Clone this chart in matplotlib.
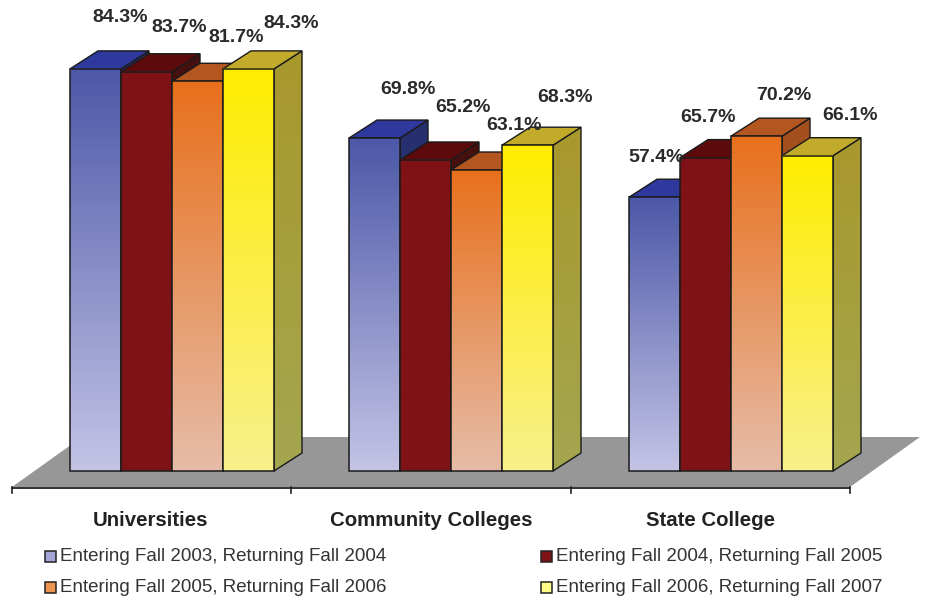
import matplotlib
matplotlib.use("Agg")
import matplotlib.pyplot as plt
import numpy as np
from matplotlib.colors import to_rgb
from matplotlib.patches import Polygon, Rectangle

plt.rcParams["font.family"] = ["Liberation Sans", "DejaVu Sans"]

# data
groups = ["Universities", "Community Colleges", "State College"]
series = [
    "Entering Fall 2003, Returning Fall 2004",
    "Entering Fall 2004, Returning Fall 2005",
    "Entering Fall 2005, Returning Fall 2006",
    "Entering Fall 2006, Returning Fall 2007",
]
fall_2003 = [84.3, 69.8, 57.4]
fall_2004 = [83.7, 65.2, 65.7]
fall_2005 = [81.7, 63.1, 70.2]
fall_2006 = [84.3, 68.3, 66.1]
values = [fall_2003, fall_2004, fall_2005, fall_2006]

# colours: front top, front bottom, roof, side top, side bottom, legend
front_top = ["#4c58a8", "#7f1216", "#e8701c", "#ffec00"]
front_bot = ["#c4c4e6", "#7f1216", "#e6bca8", "#f8f08c"]
roof = ["#2f389c", "#5c0a0c", "#b4561f", "#c2aa2a"]
side_top = ["#27306f", "#46100f", "#a4501e", "#a8982c"]
side_bot = ["#27306f", "#46100f", "#a4501e", "#a4a650"]
legend_col = ["#a4a6d8", "#7f1216", "#ec9450", "#fdfb86"]

# layout, x in pixels and y in percent
px_per_pct = 4.77
base_px = 471
group_x = [70, 349, 629]
bar_w = 51
depth_x = 28
depth_y = 18 / px_per_pct
label_xy = [
    [(120, 18), (179, 28), (236, 37), (291, 24)],
    [(408, 89), (463, 107), (514, 125), (565, 97)],
    [(656, 157), (708, 117), (784, 95), (850, 115)],
]


def px_y(y):
    return (base_px - y) / px_per_pct


def gradient(ax, extent, top, bottom, clip=None):
    t = np.linspace(0, 1, 256)[:, None, None]
    img = (1 - t) * np.array(to_rgb(top)) + t * np.array(to_rgb(bottom))
    im = ax.imshow(img, extent=extent, aspect="auto", origin="upper", zorder=2)
    if clip is not None:
        clip.set_transform(ax.transData)
        im.set_clip_path(clip)


fig = plt.figure(figsize=(9.28, 6.0), dpi=100)
ax = fig.add_axes([0, 0, 1, 1])
ax.axis("off")

# floor
ax.add_patch(Polygon([(12, px_y(487)), (850, px_y(487)), (920, px_y(437)), (82, px_y(437))],
                     closed=True, fc="#979797", ec="none", zorder=1))
ax.plot([12, 850], [px_y(487.5)] * 2, color="#222222", lw=1.3, zorder=1.5)
for x in [12, 291, 571, 850]:
    ax.plot([x, x], [px_y(487), px_y(493)], color="#222222", lw=1.2, zorder=1.5)

# bars, left to right so each front covers the previous side
for g in range(len(groups)):
    for s in range(len(series)):
        v = values[s][g]
        x0 = group_x[g] + s * bar_w
        x1 = x0 + bar_w
        side = [(x1, 0), (x1 + depth_x, depth_y), (x1 + depth_x, v + depth_y), (x1, v)]
        gradient(ax, (x1, x1 + depth_x, 0, v + depth_y), side_top[s], side_bot[s],
                 Polygon(side, closed=True))
        ax.add_patch(Polygon(side, closed=True, fc="none", ec="#1a1a1a", lw=1.0, zorder=2))
        top = [(x0, v), (x1, v), (x1 + depth_x, v + depth_y), (x0 + depth_x, v + depth_y)]
        ax.add_patch(Polygon(top, closed=True, fc=roof[s], ec="#1a1a1a", lw=1.0, zorder=2))
        gradient(ax, (x0, x1, 0, v), front_top[s], front_bot[s])
        ax.add_patch(Rectangle((x0, 0), bar_w, v, fc="none", ec="#1a1a1a", lw=1.1, zorder=2))

for g in range(len(groups)):
    for s in range(len(series)):
        lx, ly = label_xy[g][s]
        ax.text(lx, px_y(ly), "%.1f%%" % values[s][g], fontsize=14, fontweight="bold",
                color="#2a2a2a", ha="center", va="center", zorder=5)

for name, x in zip(groups, [151, 431, 711]):
    ax.text(x, px_y(520.5), name, fontsize=14.7, fontweight="bold", color="#222222",
            ha="center", va="center")

# legend is a 2x2 grid, filled row by row
for i, name in enumerate(series):
    lx = [45, 541][i % 2]
    ly = [556, 587][i // 2]
    ax.add_patch(Rectangle((lx, px_y(ly + 5.5)), 11, 11 / px_per_pct, fc=legend_col[i],
                           ec="#222222", lw=1.1, zorder=3))
    ax.text(lx + 15, px_y(ly + 0.5), name, fontsize=13.5, color="#333333", ha="left", va="center")

ax.set_xlim(0, 928)
ax.set_ylim(px_y(600), px_y(0))

fig.savefig("out.png", dpi=100)
